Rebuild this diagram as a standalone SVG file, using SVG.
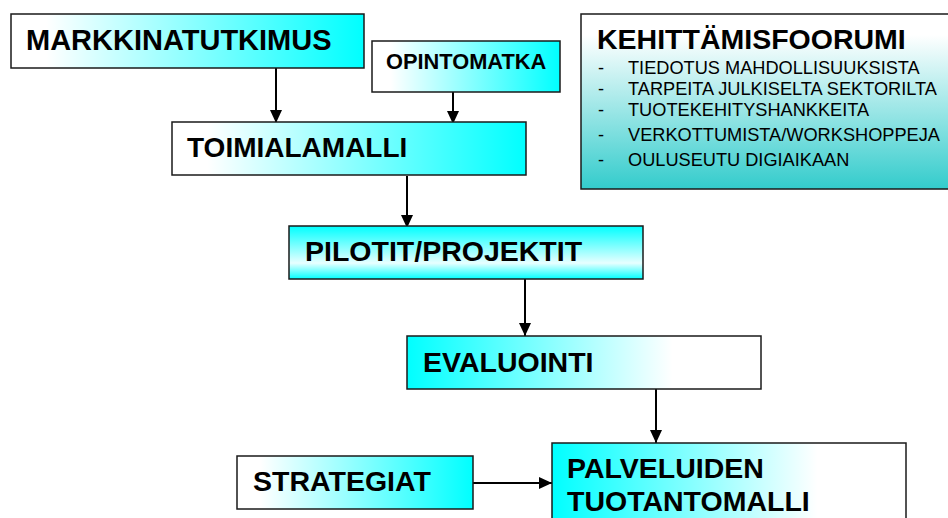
<svg xmlns="http://www.w3.org/2000/svg" width="948" height="518" viewBox="0 0 948 518">
  <defs>
    <linearGradient id="wc" x1="0" y1="0" x2="1" y2="0">
      <stop offset="0" stop-color="#ffffff"/>
      <stop offset="0.1" stop-color="#ffffff"/>
      <stop offset="1" stop-color="#00ffff"/>
    </linearGradient>
    <linearGradient id="cw" x1="0" y1="0" x2="1" y2="0">
      <stop offset="0" stop-color="#00ffff"/>
      <stop offset="0.75" stop-color="#ffffff"/>
      <stop offset="1" stop-color="#ffffff"/>
    </linearGradient>
    <linearGradient id="vc" x1="0" y1="0" x2="0" y2="1">
      <stop offset="0" stop-color="#00ffff"/>
      <stop offset="0.7" stop-color="#e8ffff"/>
      <stop offset="1" stop-color="#00ffff"/>
    </linearGradient>
    <linearGradient id="teal" x1="0" y1="0" x2="0" y2="1">
      <stop offset="0" stop-color="#ffffff"/>
      <stop offset="0.12" stop-color="#ffffff"/>
      <stop offset="1" stop-color="#33cccc"/>
    </linearGradient>
    <marker id="arr" markerUnits="userSpaceOnUse" markerWidth="14" markerHeight="12" viewBox="0 0 14 12" refX="13" refY="6" orient="auto">
      <path d="M0,0 L13,6 L0,12 Z" fill="#000"/>
    </marker>
    <style>
      .box { stroke: #1a1a1a; stroke-width: 1.5; }
      .big { font-family: "Liberation Sans", Arial, sans-serif; font-weight: bold; font-size: 28.5px; fill: #000; }
      .mid { font-family: "Liberation Sans", Arial, sans-serif; font-weight: bold; font-size: 21.8px; fill: #000; }
      .item { font-family: "Liberation Sans", Arial, sans-serif; font-size: 18.2px; fill: #000; }
      .conn { stroke: #000; stroke-width: 2; fill: none; marker-end: url(#arr); }
    </style>
  </defs>
  <rect width="948" height="518" fill="#ffffff"/>

  <g id="connectors">
    <line class="conn" x1="276" y1="68" x2="276" y2="123"/>
    <line class="conn" x1="453" y1="92" x2="453" y2="124"/>
    <line class="conn" x1="407" y1="176" x2="407" y2="228"/>
    <line class="conn" x1="525" y1="279" x2="525" y2="336"/>
    <line class="conn" x1="656" y1="389" x2="656" y2="443"/>
    <line class="conn" x1="473" y1="483" x2="552" y2="483"/>
  </g>

  <g id="markkinatutkimus">
    <rect class="box" x="11" y="14" width="353" height="54" fill="url(#wc)"/>
    <text class="big" x="26" y="50" style="font-size:29px">MARKKINATUTKIMUS</text>
  </g>

  <g id="opintomatka">
    <rect class="box" x="372" y="41" width="188" height="51" fill="url(#wc)"/>
    <text class="mid" x="386" y="69">OPINTOMATKA</text>
  </g>

  <g id="kehittamisfoorumi">
    <rect class="box" x="581" y="14" width="380" height="175" fill="url(#teal)"/>
    <text class="big" x="597" y="49">KEHITTÄMISFOORUMI</text>
    <text class="item" x="598" y="74">-</text>
    <text class="item" x="628" y="74">TIEDOTUS MAHDOLLISUUKSISTA</text>
    <text class="item" x="598" y="95">-</text>
    <text class="item" x="628" y="95">TARPEITA JULKISELTA SEKTORILTA</text>
    <text class="item" x="598" y="116">-</text>
    <text class="item" x="628" y="116">TUOTEKEHITYSHANKKEITA</text>
    <text class="item" x="598" y="141">-</text>
    <text class="item" x="628" y="141">VERKOTTUMISTA/WORKSHOPPEJA</text>
    <text class="item" x="598" y="166">-</text>
    <text class="item" x="628" y="166">OULUSEUTU DIGIAIKAAN</text>
  </g>

  <g id="toimialamalli">
    <rect class="box" x="172" y="122" width="354" height="53" fill="url(#wc)"/>
    <text class="big" x="187" y="157" style="font-size:28px">TOIMIALAMALLI</text>
  </g>

  <g id="pilotit">
    <rect class="box" x="289" y="226" width="354" height="53" fill="url(#vc)"/>
    <text class="big" x="305" y="261">PILOTIT/PROJEKTIT</text>
  </g>

  <g id="evaluointi">
    <rect class="box" x="407" y="336" width="354" height="53" fill="url(#cw)"/>
    <text class="big" x="423" y="372">EVALUOINTI</text>
  </g>

  <g id="strategiat">
    <rect class="box" x="237" y="456" width="236" height="53" fill="url(#wc)"/>
    <text class="big" x="253" y="491">STRATEGIAT</text>
  </g>

  <g id="palveluiden">
    <rect class="box" x="552" y="443" width="354" height="90" fill="url(#cw)"/>
    <text class="big" x="567" y="478">PALVELUIDEN</text>
    <text class="big" x="567" y="511">TUOTANTOMALLI</text>
  </g>
</svg>
